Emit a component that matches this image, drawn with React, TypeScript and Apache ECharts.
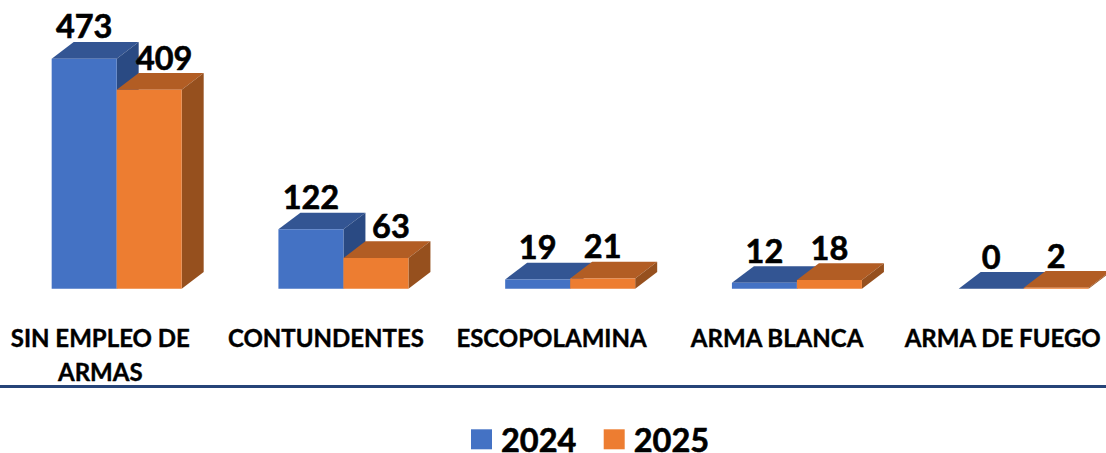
import React, { useEffect, useRef } from "react";
import * as echarts from "echarts";

const categories = ["SIN EMPLEO DE\nARMAS", "CONTUNDENTES", "ESCOPOLAMINA", "ARMA BLANCA", "ARMA DE FUEGO"];
const values2024 = [473, 122, 19, 12, 0];
const values2025 = [409, 63, 21, 18, 2];

const FONT = "Lato, Carlito, Calibri, sans-serif";
const BAR_W = 65;
const DX = 22;
const DY = 16.7;

const palettes = {
  blue: { front: "#4472C4", top: "#335593", side: "#2A4A83" },
  orange: { front: "#ED7D31", top: "#B25D24", side: "#96501E" },
};

function bars(name: string, values: number[], others: number[], pal: typeof palettes.blue, isSecond: boolean) {
  return {
    type: "custom",
    name,
    xAxisIndex: 0,
    yAxisIndex: 0,
    itemStyle: { color: pal.front },
    clip: false,
    data: values.map((v, i) => [i, v]),
    renderItem: (_p: any, api: any) => {
      const i = api.value(0);
      const v = api.value(1);
      const [cx, yTop] = api.coord([i, v]);
      const [, yBase] = api.coord([i, 0]);
      const x0 = isSecond ? cx : cx - BAR_W;
      const x1 = x0 + BAR_W;
      // a label that would sit on the taller neighbour's side face is pushed to the right
      const nudge = isSecond && others[i] - v > 40 ? 15 : 0;
      return {
        type: "group",
        children: [
          {
            type: "polygon",
            shape: { points: [[x0, yTop], [x0 + DX, yTop - DY], [x1 + DX, yTop - DY], [x1, yTop]] },
            style: { fill: pal.top },
          },
          {
            type: "polygon",
            shape: { points: [[x1, yTop], [x1 + DX, yTop - DY], [x1 + DX, yBase - DY], [x1, yBase]] },
            style: { fill: pal.side },
          },
          {
            type: "rect",
            shape: { x: x0, y: yTop, width: BAR_W, height: yBase - yTop },
            style: { fill: pal.front },
          },
          {
            type: "text",
            style: {
              text: String(v),
              x: (x0 + x1) / 2 + nudge,
              y: yTop - DY + 0.5,
              fill: "#000000",
              stroke: "#000000",
              lineWidth: 0.6,
              align: "center",
              verticalAlign: "bottom",
              font: `bold 32.5px ${FONT}`,
            },
          },
        ],
      };
    },
  };
}

export default function App() {
  const ref = useRef<HTMLDivElement>(null);
  useEffect(() => {
    document.body.style.margin = "0";
    const chart = echarts.init(ref.current!, null, { renderer: "svg" });
    chart.setOption({
      animation: false,
      backgroundColor: "#ffffff",
      grid: [
        // bars: category centres sit at the seam between the two bars
        { left: 3.3, top: 45.5, width: 1133.75, height: 243.2, outerBoundsMode: "none" },
        // labels: the text row has its own slightly tighter spacing
        { left: -12.5, top: 45.5, width: 1128, height: 243.2, outerBoundsMode: "none" },
      ],
      xAxis: [
        {
          type: "category",
          gridIndex: 0,
          data: categories,
          axisLine: { show: false },
          axisTick: { show: false },
          axisLabel: { show: false },
        },
        {
          type: "category",
          gridIndex: 1,
          data: categories,
          axisLine: { show: false },
          axisTick: { show: false },
          axisLabel: {
            interval: 0,
            hideOverlap: false,
            margin: 32,
            color: "#000000",
            fontFamily: FONT,
            fontWeight: "bold",
            fontSize: 24,
            lineHeight: 34,
            textBorderColor: "#000000",
            textBorderWidth: 0.4,
          },
        },
      ],
      yAxis: [
        { type: "value", gridIndex: 0, min: 0, max: 500, show: false },
        { type: "value", gridIndex: 1, min: 0, max: 500, show: false },
      ],
      legend: {
        left: 471,
        top: 422.5,
        icon: "rect",
        itemWidth: 21,
        itemHeight: 20,
        itemGap: 27,
        padding: 0,
        data: ["2024", "2025"],
        textStyle: {
          color: "#000000",
          fontFamily: FONT,
          fontWeight: "bold",
          fontSize: 32.5,
          padding: [0, 0, 0, 4],
          textBorderColor: "#000000",
          textBorderWidth: 0.6,
        },
      },
      graphic: [
        {
          type: "rect",
          shape: { x: 0, y: 385, width: 1106, height: 3 },
          style: { fill: "#264478" },
        },
      ],
      series: [
        bars("2024", values2024, values2025, palettes.blue, false),
        bars("2025", values2025, values2024, palettes.orange, true),
      ],
    });
    return () => chart.dispose();
  }, []);
  return <div ref={ref} style={{ width: 1106, height: 453 }} />;
}
